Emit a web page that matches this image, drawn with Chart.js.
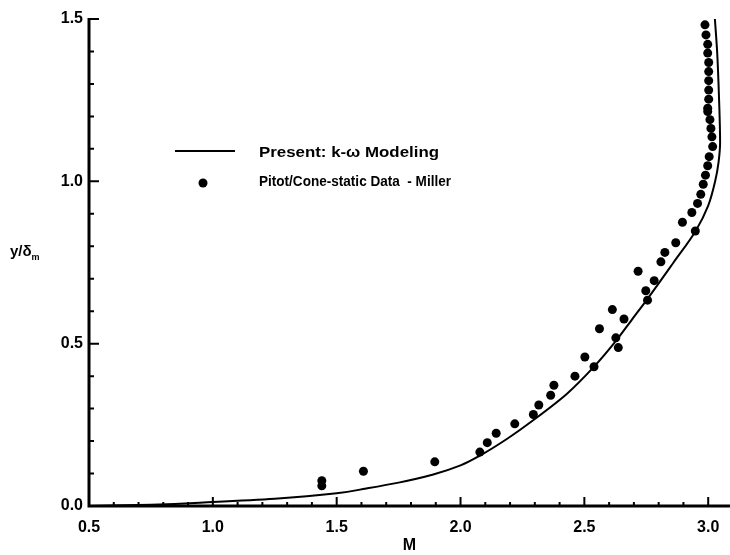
<!DOCTYPE html>
<html>
<head>
<meta charset="utf-8">
<script src="https://cdn.jsdelivr.net/npm/chart.js@4"></script>
<style>
  html, body { margin: 0; padding: 0; background: #fff; }
  #wrap { width: 730px; height: 555px; }
</style>
</head>
<body>
<div id="wrap"><canvas id="grafico" width="730" height="555"></canvas></div>
<script>
// k-omega model curve (M, y/delta_m)
const modelM = [0.5, 0.75, 1.0, 1.25, 1.5, 1.62, 1.75, 1.89, 2.0, 2.08, 2.19, 2.30, 2.43, 2.54, 2.63, 2.69, 2.755, 2.86, 2.95, 3.0, 3.028, 3.042, 3.048, 3.044, 3.036, 3.027];
const modelY = [0.0, 0.004, 0.012, 0.022, 0.039, 0.054, 0.072, 0.097, 0.125, 0.156, 0.208, 0.268, 0.346, 0.43, 0.511, 0.572, 0.638, 0.75, 0.848, 0.925, 1.0, 1.06, 1.12, 1.25, 1.4, 1.5];

// Pitot/Cone-static data - Miller
const millerM = [1.44, 1.44, 1.608, 1.896, 2.078, 2.108, 2.144, 2.219, 2.294, 2.316, 2.364, 2.377, 2.462, 2.539, 2.502, 2.637, 2.627, 2.561, 2.660, 2.613, 2.755, 2.748, 2.782, 2.717, 2.809, 2.825, 2.869, 2.948, 2.896, 2.934, 2.957, 2.970, 2.980, 2.989, 2.998, 3.004, 3.018, 3.015, 3.011, 3.007, 2.998, 2.998, 3.002, 3.002, 3.002, 3.002, 3.002, 2.998, 2.998, 2.991, 2.987];
const millerY = [0.078, 0.062, 0.107, 0.136, 0.166, 0.195, 0.224, 0.253, 0.282, 0.311, 0.341, 0.372, 0.400, 0.429, 0.459, 0.488, 0.518, 0.546, 0.576, 0.605, 0.634, 0.663, 0.694, 0.723, 0.752, 0.781, 0.811, 0.847, 0.874, 0.904, 0.932, 0.960, 0.991, 1.019, 1.048, 1.076, 1.107, 1.137, 1.163, 1.190, 1.215, 1.225, 1.253, 1.281, 1.310, 1.338, 1.366, 1.395, 1.422, 1.451, 1.482];

const xTicks = [0.5, 1.0, 1.5, 2.0, 2.5, 3.0];
const yTicks = [0.0, 0.5, 1.0, 1.5];

const labelModel = "Present: k-\u03c9 Modeling";
const labelMiller = "Pitot/Cone-static Data  - Miller";

const FONT = '"Liberation Sans", Arial, sans-serif';

const axesPlugin = {
  id: "axesPlugin",
  afterDraw(chart) {
    const ctx = chart.ctx;
    const xs = chart.scales.x;
    const ys = chart.scales.y;
    const left = xs.left;
    const bottom = ys.bottom;
    ctx.save();
    ctx.strokeStyle = "#000";
    ctx.fillStyle = "#000";

    // axis lines
    ctx.lineWidth = 3;
    ctx.beginPath();
    ctx.moveTo(left, ys.top - 1);
    ctx.lineTo(left, bottom);
    ctx.lineTo(chart.width, bottom);
    ctx.stroke();

    // inward ticks, major + minor
    ctx.lineWidth = 2;
    ctx.beginPath();
    for (let i = 0; i <= 25; i++) {
      const px = xs.getPixelForValue(0.5 + i * 0.1);
      const len = i % 5 === 0 ? 9 : 4;
      ctx.moveTo(px, bottom);
      ctx.lineTo(px, bottom - len);
    }
    for (let i = 0; i <= 15; i++) {
      const py = ys.getPixelForValue(i * 0.1);
      const len = i % 5 === 0 ? 10 : 5;
      ctx.moveTo(left, py);
      ctx.lineTo(left + len, py);
    }
    ctx.stroke();

    // y title y/δm
    ctx.textBaseline = "alphabetic";
    ctx.textAlign = "left";
    ctx.font = "bold 15px " + FONT;
    ctx.fillText("y/\u03b4", 10, 256);
    const w = ctx.measureText("y/\u03b4").width;
    ctx.font = "bold 9px " + FONT;
    ctx.fillText("m", 10 + w, 260);

    // legend
    ctx.lineWidth = 2;
    ctx.beginPath();
    ctx.moveTo(175, 151);
    ctx.lineTo(235, 151);
    ctx.stroke();
    ctx.beginPath();
    ctx.arc(203, 183, 4.5, 0, Math.PI * 2);
    ctx.fill();

    ctx.font = "bold 15px " + FONT;
    const drawFit = (txt, x, y, target) => {
      const m = ctx.measureText(txt).width;
      ctx.save();
      ctx.translate(x, y);
      ctx.scale(target / m, 1);
      ctx.fillText(txt, 0, 0);
      ctx.restore();
    };
    drawFit(labelModel, 259, 157, 180);
    drawFit(labelMiller, 259, 186, 192);
    ctx.restore();
  }
};

const ctx = document.getElementById("grafico").getContext("2d");
new Chart(ctx, {
  type: "scatter",
  data: {
    datasets: [
      {
        label: labelModel,
        data: modelM.map((m, i) => ({ x: m, y: modelY[i] })),
        indexAxis: "y",
        showLine: true,
        borderColor: "#000",
        borderWidth: 2,
        pointRadius: 0,
        cubicInterpolationMode: "monotone",
        fill: false
      },
      {
        label: labelMiller,
        data: millerM.map((m, i) => ({ x: m, y: millerY[i] })),
        showLine: false,
        backgroundColor: "#000",
        borderColor: "#000",
        pointRadius: 4.5,
        pointBorderWidth: 0
      }
    ]
  },
  options: {
    responsive: false,
    devicePixelRatio: 1,
    animation: false,
    layout: { autoPadding: false, padding: { top: 19, right: 0, bottom: 0, left: 0 } },
    plugins: { legend: { display: false }, tooltip: { enabled: false } },
    scales: {
      x: {
        type: "linear",
        min: 0.5,
        max: 3.088,
        afterBuildTicks: s => { s.ticks = xTicks.map(v => ({ value: v })); },
        afterFit: s => { s.height = 49; s.paddingRight = 0; s.paddingLeft = 0; },
        grid: { display: false, drawTicks: false },
        border: { display: false },
        ticks: {
          color: "#000",
          padding: 12,
          font: { family: FONT, size: 16, weight: "bold" },
          callback: v => v.toFixed(1)
        },
        title: {
          display: true,
          text: "M",
          color: "#000",
          padding: { top: 0, bottom: 0 },
          font: { family: FONT, size: 16, weight: "bold" }
        }
      },
      y: {
        type: "linear",
        min: 0,
        max: 1.5,
        afterBuildTicks: s => { s.ticks = yTicks.map(v => ({ value: v })); },
        afterFit: s => { s.width = 89; },
        grid: { display: false, drawTicks: false },
        border: { display: false },
        ticks: {
          color: "#000",
          padding: 6,
          font: { family: FONT, size: 16, weight: "bold" },
          callback: v => v.toFixed(1)
        }
      }
    }
  },
  plugins: [axesPlugin]
});
</script>
</body>
</html>
